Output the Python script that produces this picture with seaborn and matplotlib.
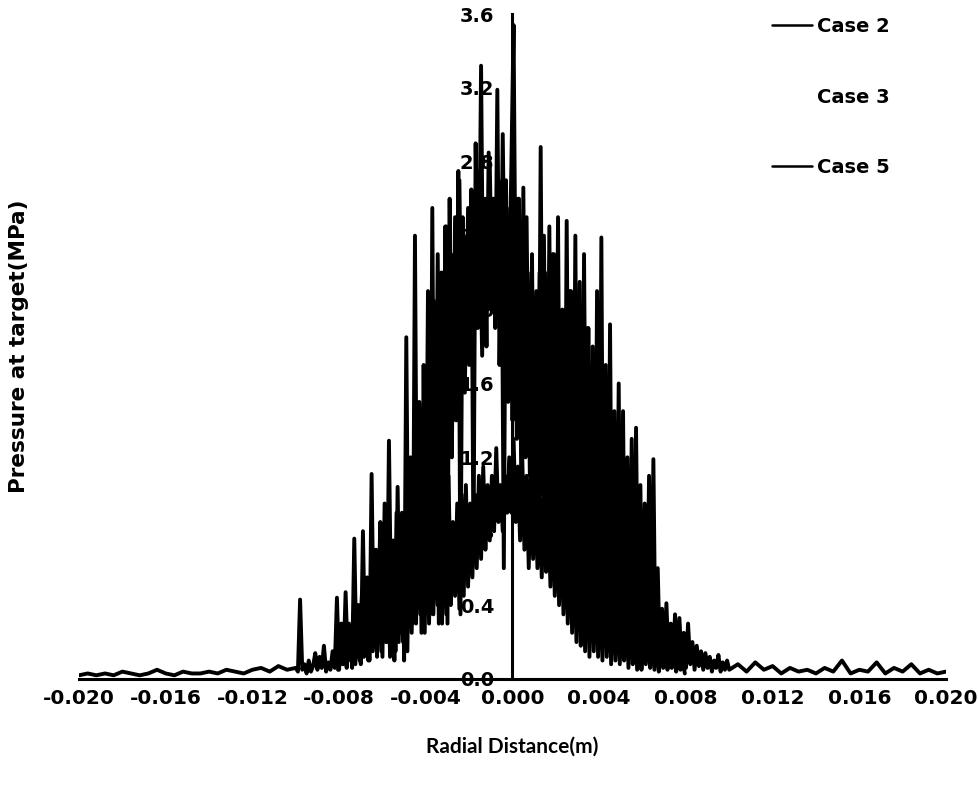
import numpy as np
import pandas as pd
import matplotlib
matplotlib.use("Agg")
import matplotlib.pyplot as plt
import seaborn as sns

sns.set_style("white")
plt.rcParams['font.family'] = ['DejaVu Sans']
plt.rcParams['axes.unicode_minus'] = False
plt.rcParams['text.color'] = 'black'
plt.rcParams['axes.labelcolor'] = 'black'

# Dados
x_left = np.linspace(-0.0200, -0.0104, 25)
x_core = np.linspace(-0.0100, 0.0100, 201)
x_right = np.linspace(0.0104, 0.0200, 25)

case2_left = [0.02, 0.03, 0.02, 0.03, 0.02, 0.04, 0.03, 0.02, 0.03, 0.05, 0.03, 0.02, 0.04,
              0.03, 0.03, 0.04, 0.03, 0.05, 0.04, 0.03, 0.05, 0.06, 0.04, 0.07, 0.05]
case2_core = [0.06, 0.04, 0.43, 0.05, 0.08, 0.03, 0.10, 0.04, 0.07, 0.14,
              0.05, 0.12, 0.06, 0.18, 0.04, 0.09, 0.05, 0.15, 0.06, 0.44,
              0.05, 0.30, 0.08, 0.47, 0.10, 0.25, 0.06, 0.76, 0.12, 0.40,
              0.08, 0.80, 0.15, 0.55, 0.10, 1.11, 0.20, 0.70, 0.30, 0.85,
              0.12, 0.95, 0.20, 1.29, 0.35, 0.75, 0.15, 1.04, 0.25, 0.90,
              0.10, 1.85, 0.40, 1.20, 0.30, 2.40, 0.45, 1.50, 0.25, 1.70,
              0.55, 2.10, 0.35, 2.55, 0.60, 1.90, 0.30, 2.20, 0.80, 2.45,
              0.30, 2.60, 1.20, 2.30, 1.40, 2.75, 0.35, 2.50, 1.55, 2.35,
              1.70, 2.65, 0.65, 2.90, 1.90, 2.40, 1.75, 2.50, 1.80, 2.85,
              2.00, 2.60, 1.90, 3.19, 1.70, 2.45, 0.60, 2.70, 1.50, 2.55,
              1.40, 2.30, 1.30, 2.60, 1.10, 2.66, 1.20, 2.20, 1.10, 2.30,
              0.90, 2.10, 1.00, 2.88, 1.00, 2.20, 0.85, 2.45, 0.90, 2.30,
              0.80, 2.50, 0.70, 2.00, 0.65, 2.48, 0.90, 2.10, 0.75, 2.40,
              0.40, 2.15, 0.30, 2.30, 0.70, 1.90, 0.35, 1.80, 0.25, 2.10,
              0.30, 2.39, 0.20, 1.70, 0.15, 1.92, 0.25, 1.45, 0.20, 1.60,
              0.12, 1.45, 0.15, 1.20, 0.20, 1.30, 0.10, 1.36, 0.18, 1.05,
              0.10, 0.95, 0.25, 1.10, 0.12, 1.19, 0.08, 0.60, 0.10, 0.38,
              0.08, 0.41, 0.10, 0.30, 0.12, 0.35, 0.06, 0.33, 0.10, 0.25,
              0.06, 0.30, 0.08, 0.20, 0.05, 0.18, 0.07, 0.15, 0.05, 0.14,
              0.06, 0.12, 0.04, 0.10, 0.06, 0.13, 0.04, 0.09, 0.05, 0.10,
              0.05]
case2_right = [0.08, 0.04, 0.09, 0.05, 0.07, 0.03, 0.06, 0.04, 0.05, 0.03, 0.06, 0.04, 0.10,
               0.03, 0.05, 0.04, 0.09, 0.03, 0.06, 0.04, 0.08, 0.03, 0.05, 0.03, 0.04]

case3_x = np.linspace(-0.00495, 0.00505, 101)
case3 = [0.30, 0.90, 0.45, 1.00, 0.50, 1.25, 0.60, 1.40, 0.55, 1.60,
         0.70, 1.90, 0.80, 2.05, 0.90, 2.30, 1.00, 2.20, 1.10, 2.45,
         1.30, 2.20, 1.40, 2.50, 1.50, 2.70, 1.70, 2.40, 1.80, 2.55,
         1.90, 2.50, 2.00, 2.75, 2.05, 3.32, 1.90, 2.60, 2.00, 2.80,
         2.10, 2.60, 2.00, 2.70, 1.80, 2.95, 2.00, 2.50, 2.10, 2.80,
         3.54, 1.90, 2.60, 1.50, 2.30, 1.40, 2.50, 1.30, 2.10, 1.20,
         2.00, 1.00, 2.20, 1.20, 2.40, 1.10, 2.00, 0.80, 2.30, 1.00,
         2.30, 1.10, 1.90, 0.90, 2.00, 0.70, 2.10, 0.80, 1.80, 0.90,
         1.70, 0.60, 1.60, 0.50, 1.90, 0.70, 1.40, 0.60, 1.50, 0.50,
         1.50, 0.40, 1.30, 0.45, 1.20, 0.30, 1.00, 0.35, 0.80, 0.30,
         0.20]

case5_x = np.linspace(-0.00805, 0.00795, 161)
case5 = [0.05, 0.20, 0.08, 0.25, 0.06, 0.30, 0.10, 0.35, 0.08, 0.40,
         0.10, 0.45, 0.12, 0.38, 0.10, 0.55, 0.15, 0.50, 0.12, 0.70,
         0.15, 0.60, 0.20, 0.75, 0.12, 0.65, 0.10, 0.90, 0.20, 0.80,
         0.20, 0.85, 0.15, 0.95, 0.25, 1.00, 0.30, 0.85, 0.35, 0.95,
         0.25, 1.05, 0.30, 0.90, 0.35, 0.95, 0.40, 0.90, 0.30, 1.00,
         0.35, 1.10, 0.40, 0.85, 0.45, 0.95, 0.38, 1.00, 0.45, 1.05,
         0.50, 0.95, 0.55, 1.00, 0.60, 1.10, 0.65, 1.15, 0.70, 1.05,
         0.75, 1.10, 0.80, 1.25, 0.85, 1.05, 0.80, 1.10, 0.90, 1.20,
         0.90, 1.30, 0.85, 1.15, 0.75, 1.20, 0.70, 1.10, 0.60, 1.15,
         0.65, 1.10, 0.60, 1.00, 0.55, 1.05, 0.58, 0.95, 0.50, 1.05,
         0.45, 0.95, 0.40, 1.00, 0.35, 0.90, 0.30, 0.95, 0.25, 0.85,
         0.20, 0.90, 0.18, 0.75, 0.15, 0.85, 0.12, 0.80, 0.15, 0.70,
         0.12, 0.65, 0.10, 0.75, 0.12, 0.70, 0.08, 0.60, 0.10, 0.55,
         0.08, 0.55, 0.10, 0.45, 0.06, 0.50, 0.08, 0.40, 0.05, 0.45,
         0.05, 0.35, 0.08, 0.30, 0.06, 0.25, 0.05, 0.28, 0.04, 0.20,
         0.06, 0.20, 0.05, 0.15, 0.06, 0.18, 0.04, 0.12, 0.05, 0.10,
         0.03]

x_ticks = [-0.020, -0.016, -0.012, -0.008, -0.004, 0.000, 0.004, 0.008, 0.012, 0.016, 0.020]
y_ticks = [0.0, 0.4, 0.8, 1.2, 1.6, 2.0, 2.4, 2.8, 3.2, 3.6]

df2 = pd.DataFrame({'x': np.concatenate([x_left, x_core, x_right]),
                    'p': case2_left + case2_core + case2_right})
df3 = pd.DataFrame({'x': case3_x, 'p': case3})
df5 = pd.DataFrame({'x': case5_x, 'p': case5})

fig = plt.figure(figsize=(9.79, 7.88), dpi=100)
ax = fig.add_axes([79 / 979, 109 / 788, 867 / 979, 665 / 788])

estilo = dict(color='black', lw=2.8, ax=ax)
sns.lineplot(data=df2, x='x', y='p', label='Case 2', **estilo)
sns.lineplot(data=df3, x='x', y='p', label='Case 3', **estilo)
sns.lineplot(data=df5, x='x', y='p', label='Case 5', **estilo)

ax.set_xlim(-0.020, 0.020)
ax.set_ylim(0, 3.6)
ax.set_xticks(x_ticks)
ax.set_xticklabels([f'{t:.3f}' for t in x_ticks])
ax.set_yticks(y_ticks)
ax.set_yticklabels([f'{t:.1f}' for t in y_ticks])
ax.set_axisbelow(True)

# eixos cruzando no zero
ax.spines['left'].set_position(('data', 0))
ax.spines['right'].set_visible(False)
ax.spines['top'].set_visible(False)
for s in ['left', 'bottom']:
    ax.spines[s].set_color('black')
    ax.spines[s].set_linewidth(2.2)

ax.tick_params(axis='x', direction='out', length=6, width=2, pad=1, labelsize=14.5, colors='black')
ax.tick_params(axis='y', direction='out', length=5, width=2, pad=8, labelsize=14, colors='black')
for lab in ax.get_xticklabels() + ax.get_yticklabels():
    lab.set_fontweight('bold')

ax.set_ylabel('Pressure at target(MPa)', fontsize=15.5, fontweight='bold')
ax.yaxis.set_label_coords(-0.058, 0.5)
ax.set_xlabel('Radial Distance(m)', fontsize=15, fontweight='bold', family=['Lato', 'DejaVu Sans'])
ax.xaxis.set_label_coords(0.5, -0.086)

leg = ax.legend(loc='upper left', bbox_to_anchor=(772 / 979, 1 - 17 / 788),
                bbox_transform=fig.transFigure, frameon=False, borderpad=0,
                borderaxespad=0, handlelength=2.05, handletextpad=0.25,
                labelspacing=2.65, prop={'size': 14, 'weight': 'bold'})
for ln in leg.get_lines():
    ln.set_linewidth(1.8)
leg.get_lines()[1].set_color('white')

plt.savefig('out.png', dpi=100)
